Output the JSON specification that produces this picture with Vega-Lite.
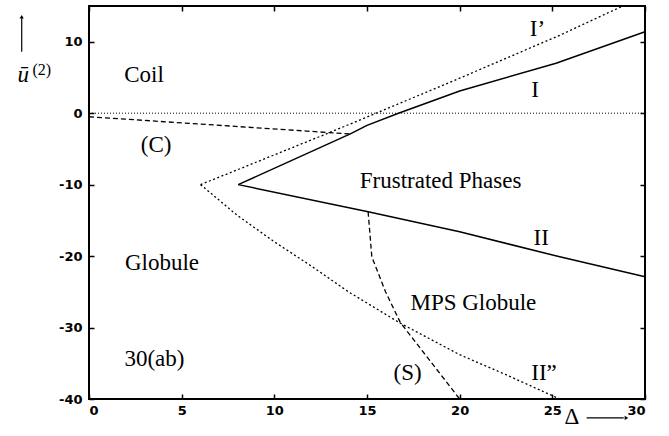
{
  "$schema": "https://vega.github.io/schema/vega-lite/v6.json",
  "width": 556,
  "height": 393,
  "autosize": {"type": "none"},
  "padding": {"left": 89, "top": 6, "right": 24, "bottom": 37},
  "background": "white",
  "config": {
    "view": {"stroke": "black", "strokeWidth": 2},
    "axis": {
      "domain": false,
      "grid": false,
      "tickColor": "black",
      "tickWidth": 1.5,
      "tickSize": -5,
      "title": null
    }
  },
  "datasets": {
    "boundaries": [
      {"curve": "zero", "k": 0, "delta": 0, "u": 0},
      {"curve": "zero", "k": 1, "delta": 30, "u": 0},
      {"curve": "C", "k": 0, "delta": 0, "u": -0.5},
      {"curve": "C", "k": 1, "delta": 14.05, "u": -2.9},
      {"curve": "I", "k": 0, "delta": 8.05, "u": -10},
      {"curve": "I", "k": 1, "delta": 14.1, "u": -2.9},
      {"curve": "I", "k": 2, "delta": 15.0, "u": -1.7},
      {"curve": "I", "k": 3, "delta": 16.7, "u": 0},
      {"curve": "I", "k": 4, "delta": 20, "u": 3.1},
      {"curve": "I", "k": 5, "delta": 25.2, "u": 7.0},
      {"curve": "I", "k": 6, "delta": 30, "u": 11.4},
      {"curve": "I'", "k": 0, "delta": 6.02, "u": -10},
      {"curve": "I'", "k": 1, "delta": 12.9, "u": -2.8},
      {"curve": "I'", "k": 2, "delta": 15.5, "u": 0},
      {"curve": "I'", "k": 3, "delta": 20, "u": 4.9},
      {"curve": "I'", "k": 4, "delta": 25.4, "u": 10.9},
      {"curve": "I'", "k": 5, "delta": 28.8, "u": 15},
      {"curve": "II", "k": 0, "delta": 8.05, "u": -10},
      {"curve": "II", "k": 1, "delta": 15.06, "u": -13.8},
      {"curve": "II", "k": 2, "delta": 20, "u": -16.6},
      {"curve": "II", "k": 3, "delta": 25.4, "u": -20.1},
      {"curve": "II", "k": 4, "delta": 30, "u": -22.9},
      {"curve": "II''", "k": 0, "delta": 6.02, "u": -10},
      {"curve": "II''", "k": 1, "delta": 8, "u": -14.3},
      {"curve": "II''", "k": 2, "delta": 10, "u": -18.0},
      {"curve": "II''", "k": 3, "delta": 12, "u": -21.4},
      {"curve": "II''", "k": 4, "delta": 14, "u": -25.0},
      {"curve": "II''", "k": 5, "delta": 16.8, "u": -29.4},
      {"curve": "II''", "k": 6, "delta": 20, "u": -33.8},
      {"curve": "II''", "k": 7, "delta": 22.5, "u": -36.6},
      {"curve": "II''", "k": 8, "delta": 25.4, "u": -40},
      {"curve": "S", "k": 0, "delta": 15.06, "u": -13.8},
      {"curve": "S", "k": 1, "delta": 15.26, "u": -20.1},
      {"curve": "S", "k": 2, "delta": 16.0, "u": -25.0},
      {"curve": "S", "k": 3, "delta": 16.8, "u": -29.3},
      {"curve": "S", "k": 4, "delta": 20, "u": -40}
    ],
    "regions": [
      {"label": "Coil", "delta": 2.97, "u": 4.42},
      {"label": "(C)", "delta": 3.62, "u": -5.4},
      {"label": "Frustrated Phases", "delta": 18.97, "u": -10.5},
      {"label": "Globule", "delta": 3.94, "u": -21.9},
      {"label": "MPS Globule", "delta": 20.74, "u": -27.6},
      {"label": "30(ab)", "delta": 3.53, "u": -35.4},
      {"label": "(S)", "delta": 17.19, "u": -37.3},
      {"label": "II”", "delta": 24.55, "u": -37.4},
      {"label": "II", "delta": 24.4, "u": -18.5},
      {"label": "I", "delta": 24.07, "u": 2.33},
      {"label": "I’", "delta": 24.2, "u": 10.8}
    ],
    "titleDelta": [
      {"label": "Δ", "delta": 26.05, "u": -43.5}
    ],
    "titleU": [
      {"label": "ū", "delta": -3.55, "u": 4.4}
    ],
    "titleSup": [
      {"label": "(2)", "delta": -2.55, "u": 5.3}
    ],
    "arrowShafts": [
      {"delta": -3.63, "u": 8.6, "delta2": -3.63, "u2": 13.3},
      {"delta": 26.85, "u": -42.65, "delta2": 28.85, "u2": -42.65}
    ],
    "arrowHeadsUp": [
      {"delta": -3.63, "u": 13.5}
    ],
    "arrowHeadsRight": [
      {"delta": 29.0, "u": -42.65}
    ]
  },
  "layer": [
    {
      "data": {"name": "boundaries"},
      "transform": [{"filter": "datum.curve === 'I' || datum.curve === 'II'"}],
      "mark": {"type": "line", "color": "black", "strokeWidth": 1.5},
      "encoding": {
        "x": {"field": "delta", "type": "quantitative", "scale": {"domain": [0, 30], "nice": false},
          "axis": {"orient": "bottom", "values": [0, 5, 10, 15, 20, 25, 30], "labelExpr": "toString(datum.value)", "labelFont": "DejaVu Sans", "labelFontSize": 13, "labelFontWeight": "bold", "labelColor": "black", "labelPadding": 10}},
        "y": {"field": "u", "type": "quantitative", "scale": {"domain": [-40, 15], "nice": false},
          "axis": {"orient": "left", "values": [-40, -30, -20, -10, 0, 10], "labelExpr": "toString(datum.value)", "labelFont": "DejaVu Sans", "labelFontSize": 13, "labelFontWeight": "bold", "labelColor": "black", "labelPadding": 12}},
        "detail": {"field": "curve"},
        "order": {"field": "k"}
      }
    },
    {
      "data": {"name": "boundaries"},
      "transform": [{"filter": "datum.curve === \"I'\" || datum.curve === \"II''\""}],
      "mark": {"type": "line", "color": "black", "strokeWidth": 1.3, "strokeDash": [2, 2.5]},
      "encoding": {
        "x": {"field": "delta", "type": "quantitative", "axis": {"orient": "top", "values": [0, 5, 10, 15, 20, 25, 30], "labels": false}},
        "y": {"field": "u", "type": "quantitative", "axis": {"orient": "right", "values": [-40, -30, -20, -10, 0, 10], "labels": false}},
        "detail": {"field": "curve"},
        "order": {"field": "k"}
      }
    },
    {
      "data": {"name": "boundaries"},
      "transform": [{"filter": "datum.curve === 'C' || datum.curve === 'S'"}],
      "mark": {"type": "line", "color": "black", "strokeWidth": 1.3, "strokeDash": [5, 3]},
      "encoding": {
        "x": {"field": "delta", "type": "quantitative", "axis": null},
        "y": {"field": "u", "type": "quantitative", "axis": null},
        "detail": {"field": "curve"},
        "order": {"field": "k"}
      }
    },
    {
      "data": {"name": "boundaries"},
      "transform": [{"filter": "datum.curve === 'zero'"}],
      "mark": {"type": "line", "color": "black", "strokeWidth": 1, "strokeDash": [1, 2]},
      "encoding": {
        "x": {"field": "delta", "type": "quantitative", "axis": null},
        "y": {"field": "u", "type": "quantitative", "axis": null},
        "order": {"field": "k"}
      }
    },
    {
      "data": {"name": "regions"},
      "mark": {"type": "text", "font": "Liberation Serif", "fontSize": 23, "color": "black", "align": "center", "baseline": "alphabetic"},
      "encoding": {
        "x": {"field": "delta", "type": "quantitative", "axis": null},
        "y": {"field": "u", "type": "quantitative", "axis": null},
        "text": {"field": "label"}
      }
    },
    {
      "data": {"name": "titleDelta"},
      "mark": {"type": "text", "font": "Liberation Serif", "fontSize": 23, "color": "black", "align": "center", "baseline": "alphabetic"},
      "encoding": {
        "x": {"field": "delta", "type": "quantitative", "axis": null},
        "y": {"field": "u", "type": "quantitative", "axis": null},
        "text": {"field": "label"}
      }
    },
    {
      "data": {"name": "titleU"},
      "mark": {"type": "text", "font": "Liberation Serif", "fontSize": 23, "fontStyle": "italic", "color": "black", "align": "center", "baseline": "alphabetic"},
      "encoding": {
        "x": {"field": "delta", "type": "quantitative", "axis": null},
        "y": {"field": "u", "type": "quantitative", "axis": null},
        "text": {"field": "label"}
      }
    },
    {
      "data": {"name": "titleSup"},
      "mark": {"type": "text", "font": "Liberation Serif", "fontSize": 16, "color": "black", "align": "center", "baseline": "alphabetic"},
      "encoding": {
        "x": {"field": "delta", "type": "quantitative", "axis": null},
        "y": {"field": "u", "type": "quantitative", "axis": null},
        "text": {"field": "label"}
      }
    },
    {
      "data": {"name": "arrowShafts"},
      "mark": {"type": "rule", "color": "black", "strokeWidth": 1.2},
      "encoding": {
        "x": {"field": "delta", "type": "quantitative", "axis": null},
        "y": {"field": "u", "type": "quantitative", "axis": null},
        "x2": {"field": "delta2"},
        "y2": {"field": "u2"}
      }
    },
    {
      "data": {"name": "arrowHeadsUp"},
      "mark": {"type": "point", "shape": "triangle-up", "filled": true, "color": "black", "size": 18, "opacity": 1},
      "encoding": {
        "x": {"field": "delta", "type": "quantitative", "axis": null},
        "y": {"field": "u", "type": "quantitative", "axis": null}
      }
    },
    {
      "data": {"name": "arrowHeadsRight"},
      "mark": {"type": "point", "shape": "triangle-right", "filled": true, "color": "black", "size": 18, "opacity": 1},
      "encoding": {
        "x": {"field": "delta", "type": "quantitative", "axis": null},
        "y": {"field": "u", "type": "quantitative", "axis": null}
      }
    }
  ],
  "resolve": {"axis": {"x": "independent", "y": "independent"}}
}
